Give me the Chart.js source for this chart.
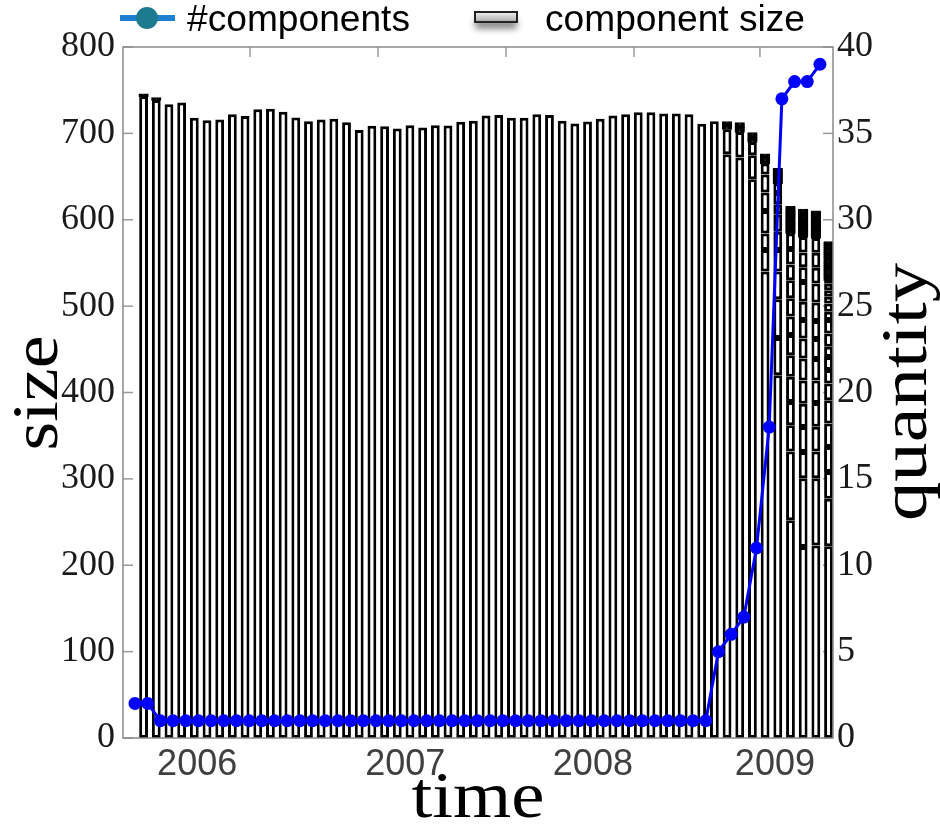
<!DOCTYPE html>
<html><head><meta charset="utf-8">
<script src="https://cdn.jsdelivr.net/npm/chart.js@4.4.1/dist/chart.umd.min.js"></script>
<style>html,body{margin:0;padding:0;background:#fff;}canvas{display:block;}</style>
</head><body>
<canvas id="c" width="940" height="824"></canvas>
<script>
// ---- data ----
const barTotals = [745.4, 741, 733.8, 735.7, 718, 715.3, 716, 722, 720, 728, 728.6, 725, 718.4, 714, 716, 717, 713, 704, 708.7,
  708.3, 705.6, 709.5, 706.8, 709.5, 709, 713.4, 714.5, 720.7, 721.4, 718, 718, 722, 721.4, 714.5, 711.4, 713.8, 716.8, 720.7, 722,
  724.5, 724.5, 723, 723, 722, 711, 714, 713.3, 712, 700.6, 676, 659, 615, 612, 610, 574.3];
const componentCounts = [2, 2, 1, 1, 1, 1, 1, 1, 1, 1, 1, 1, 1, 1, 1, 1, 1, 1, 1, 1, 1, 1, 1, 1, 1, 1, 1, 1, 1, 1,
  1, 1, 1, 1, 1, 1, 1, 1, 1, 1, 1, 1, 1, 1, 1, 1, 5, 6, 7, 11, 18, 37, 38, 38, 39];
// sizes of the smaller components stacked on top of the largest one (bottom = total - sum)
const upper00 = [2.5];
const upper01 = [2.5];
const upper46 = [29, 2.8, 2.6, 3.0];
const upper47 = [29.6, 2.5, 2.8, 2.6, 2.5];
const upper48 = [27.8, 15.2, 2.7, 2.6, 2.8, 2.5];
const upper49 = [25, 19, 26, 21.6, 20.8, 12.6, 2.8, 2.7, 2.9, 2.6];
const upper50 = [43, 45, 32, 25, 21, 20.5, 11.5, 13, 11, 2.2, 2.0, 2.3, 2.1, 2.0, 2.2, 2.1, 2.1];
const upper51 = [79.6, 30.4, 27, 29, 25, 23.6, 21.4, 21, 21, 18, 18, 18,
  1.4, 1.2, 1.3, 1.3, 1.1, 1.4, 1.2, 1.3, 1.5, 1.2, 1.3, 1.3, 1.2, 1.4, 1.3, 1.1, 1.3, 1.4, 1.2, 1.3, 1.3, 1.2, 1.4, 1.3];
const upper52 = [79.6, 30.4, 29, 27, 27, 25.5, 23.1, 21.4, 21, 23, 17, 17, 18,
  1.3, 1.4, 1.2, 1.4, 1.3, 1.3, 1.5, 1.2, 1.4, 1.3, 1.3, 1.4, 1.2, 1.5, 1.3, 1.3, 1.4, 1.2, 1.3, 1.4, 1.3, 1.4, 1.3, 1.4];
const upper53 = [78, 31, 28.5, 27.5, 26, 25, 23, 21, 21.5, 22, 18, 17.5, 17,
  1.2, 1.4, 1.3, 1.3, 1.2, 1.4, 1.3, 1.2, 1.4, 1.3, 1.3, 1.2, 1.4, 1.3, 1.2, 1.3, 1.4, 1.3, 1.2, 1.3, 1.4, 1.3, 1.2, 1.4];
const upper54 = [55, 31, 29, 27, 27, 19.5, 15.5, 15, 12, 15.3, 15.7, 9.4, 9.6, 7.8, 7.7, 7.5, 4,
  2.1, 2.0, 2.2, 2.1, 2.3, 2.0, 2.1, 2.2, 2.0, 2.1, 2.1, 2.2, 2.0, 2.1, 2.3, 2.0, 2.1, 2.1, 2.2, 2.0, 2.1];
const upperParts = {0: upper00, 1: upper01, 46: upper46, 47: upper47, 48: upper48, 49: upper49,
  50: upper50, 51: upper51, 52: upper52, 53: upper53, 54: upper54};
const yearLabels = ['2006', '2007', '2008', '2009'];
const yearTickPos = [4.9, 21.3, 36.1, 50.45];
const topTickPos = [9.07, 19.16, 29.25, 39.34, 49.27];
const legendLine = '#components';
const legendBar = 'component size';

// ---- build datasets ----
const idx = barTotals.map((_, i) => i);
function partsOf(i) {
  const up = upperParts[i] || [];
  const base = barTotals[i] - up.reduce((a, b) => a + b, 0);
  return [base, ...up];
}
const allParts = idx.map(partsOf);
const maxParts = Math.max(...componentCounts);
const isTiny = c => !!(c.raw && c.raw.y !== null && c.raw.y < 3.5);
const datasets = [];
datasets.push({
  type: 'line', label: legendLine, xAxisID: 'xl', yAxisID: 'yR', order: 0,
  data: idx.map(i => ({x: i, y: componentCounts[i]})),
  borderColor: '#0000ff', backgroundColor: '#0000ff', borderWidth: 3,
  pointRadius: 6.5, pointHoverRadius: 6.5, pointBorderWidth: 0, pointBackgroundColor: '#0000ff', tension: 0, fill: false
});
for (let k = 0; k < maxParts; k++) {
  datasets.push({
    type: 'bar', label: legendBar, xAxisID: 'x', yAxisID: 'yL', order: 1, stack: 'sizes',
    data: idx.map(i => ({x: i, y: allParts[i][k] !== undefined ? allParts[i][k] : null})),
    // very small components render as a solid black sliver, like in the reference
    backgroundColor: c => (isTiny(c) ? '#000000' : '#ffffff'),
    inflateAmount: c => (isTiny(c) ? 0.7 : 0),
    borderColor: '#000000', borderWidth: 3, borderSkipped: false,
    barThickness: 8.8
  });
}

function seg(ctx, x1, y1, x2, y2) { ctx.beginPath(); ctx.moveTo(x1, y1); ctx.lineTo(x2, y2); ctx.stroke(); }
function stretchText(ctx, text, font, target, tx, ty, rot, align) {
  ctx.save();
  ctx.font = font;
  const w = ctx.measureText(text).width;
  ctx.translate(tx, ty);
  if (rot) ctx.rotate(rot);
  ctx.scale(target / w, 1);
  ctx.textAlign = align || 'center'; ctx.textBaseline = 'alphabetic';
  ctx.fillText(text, 0, 0);
  ctx.restore();
}

const deco = {
  id: 'deco',
  beforeDatasetsDraw(chart) {
    const {ctx, chartArea: a, scales} = chart;
    ctx.save();
    ctx.strokeStyle = '#9a9a9a'; ctx.lineWidth = 1.5;
    scales.yL.ticks.forEach(t => {
      const y = scales.yL.getPixelForValue(t.value);
      seg(ctx, a.left, y, a.left + 10, y);
      seg(ctx, a.right - 10, y, a.right, y);
    });
    topTickPos.forEach(v => {
      const x = scales.xl.getPixelForValue(v);
      seg(ctx, x, a.top, x, a.top + 10);
    });
    ctx.restore();
  },
  afterDatasetsDraw(chart) {
    const {ctx, chartArea: a} = chart;
    ctx.save();
    ctx.strokeStyle = '#8a8a8a'; ctx.lineWidth = 1.5;
    ctx.strokeRect(a.left, a.top, a.right - a.left, a.bottom - a.top);
    ctx.restore();
  },
  afterDraw(chart) {
    const {ctx} = chart;
    ctx.save();
    ctx.fillStyle = '#000';
    stretchText(ctx, 'time', '66px "Liberation Serif"', 133, 478, 817, 0);
    stretchText(ctx, 'size', '66px "Liberation Serif"', 115, 57, 393, -Math.PI / 2);
    stretchText(ctx, 'quantity', '66px "Liberation Serif"', 258, 926, 392, -Math.PI / 2);
    // legend: line series
    ctx.strokeStyle = '#1f80d0'; ctx.lineWidth = 6;
    seg(ctx, 120, 18, 175, 18);
    ctx.fillStyle = '#1e7a8e';
    ctx.beginPath(); ctx.arc(147, 18, 11, 0, Math.PI * 2); ctx.fill();
    ctx.fillStyle = '#000';
    stretchText(ctx, legendLine, '36px "Liberation Sans"', 223, 187, 31, 0, 'left');
    // legend: bar series
    ctx.save();
    ctx.shadowColor = 'rgba(0,0,0,0.45)'; ctx.shadowBlur = 6; ctx.shadowOffsetY = 7;
    const g = ctx.createLinearGradient(0, 12, 0, 22);
    g.addColorStop(0, '#f2f2f2'); g.addColorStop(1, '#a8a8a8');
    ctx.fillStyle = g;
    ctx.fillRect(475, 12, 42, 10);
    ctx.restore();
    ctx.strokeStyle = '#222'; ctx.lineWidth = 2;
    ctx.strokeRect(475, 12, 42, 10);
    ctx.fillStyle = '#000';
    stretchText(ctx, legendBar, '36px "Liberation Sans"', 260, 545, 31, 0, 'left');
    ctx.restore();
  }
};

const xMin = -0.946, xMax = 55.03, barShift = 0.33;
new Chart(document.getElementById('c'), {
  type: 'bar',
  data: {datasets},
  options: {
    responsive: false, animation: false,
    layout: {padding: {top: 47, left: 0, right: 0, bottom: 0}},
    plugins: {legend: {display: false}, tooltip: {enabled: false}},
    scales: {
      x: {
        type: 'linear', position: 'bottom', stacked: true, offset: false,
        min: xMin - barShift, max: xMax - barShift,
        afterBuildTicks: s => { s.ticks = yearTickPos.map(v => ({value: v - barShift})); },
        afterFit: s => { s.height = 86; },
        ticks: {
          autoSkip: false, maxRotation: 0, padding: 5, color: '#404040',
          font: {family: 'Liberation Sans', size: 36},
          callback: (v, i) => yearLabels[i]
        },
        grid: {display: false, drawTicks: false, offset: false}, border: {display: false}
      },
      xl: {
        type: 'linear', position: 'bottom', offset: false, min: xMin, max: xMax,
        afterFit: s => { s.height = 0; },
        ticks: {display: false},
        grid: {display: false, drawTicks: false}, border: {display: false}
      },
      yL: {
        type: 'linear', position: 'left', stacked: true, min: 0, max: 800,
        afterFit: s => { s.width = 123; },
        ticks: {stepSize: 100, padding: 8, color: '#1a1a1a', font: {family: 'Liberation Serif', size: 36}},
        grid: {display: false, drawTicks: false}, border: {display: false}
      },
      yR: {
        type: 'linear', position: 'right', min: 0, max: 40,
        afterFit: s => { s.width = 107; },
        ticks: {stepSize: 5, padding: 4, color: '#1a1a1a', font: {family: 'Liberation Serif', size: 36}},
        grid: {display: false, drawTicks: false}, border: {display: false}
      }
    }
  },
  plugins: [deco]
});
</script>
</body></html>
